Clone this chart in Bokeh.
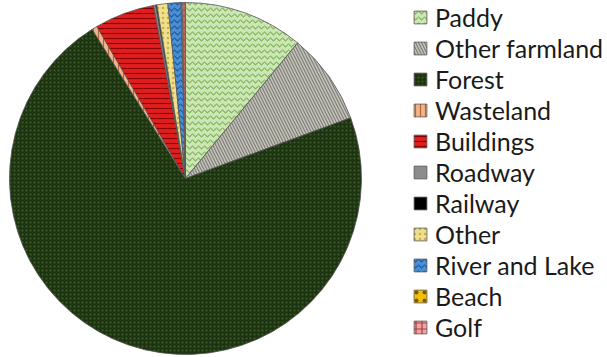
import math
from bokeh.plotting import figure
from bokeh.models import ColumnDataSource, Legend, LegendItem
from bokeh.embed import file_html
from bokeh.resources import INLINE

categories = ["Paddy", "Other farmland", "Forest", "Wasteland", "Buildings", "Roadway",
              "Railway", "Other", "River and Lake", "Beach", "Golf"]
shares = [11.0, 8.4, 71.7, 0.5, 5.5, 0.2, 0.1, 1.0, 1.2, 0.1, 0.3]

fills = ["#cde6b6", "#c4c4bc", "#1e3312", "#f2b48a", "#e01e1e", "#8c8c8c",
         "#000000", "#f0e08c", "#4a8fd6", "#f5c000", "#f2a4a4"]
hatches = ["horizontal_wave", "left_diagonal_line", "dot", "vertical_line", "horizontal_line", "blank",
           "blank", "dot", "horizontal_wave", "dot", "cross"]
hatch_colors = ["#82b85c", "#7e7e76", "#3c5e2a", "#b4663a", "#8a0000", "#8c8c8c",
                "#000000", "#c4ae4c", "#1e5a9a", "#7a5a00", "#a04040"]
hatch_scales = [6, 6, 4, 5, 5, 8, 8, 5, 6, 8, 6]

total = sum(shares)
starts, ends = [], []
acc = 0.0
for s in shares:
    a0 = math.pi / 2 - 2 * math.pi * acc / total
    acc += s
    a1 = math.pi / 2 - 2 * math.pi * acc / total
    starts.append(a0)
    ends.append(a1)

W, H = 607, 357
p = figure(width=W, height=H, output_backend="svg", toolbar_location=None,
           x_range=(0, W), y_range=(0, H), min_border=0)
p.axis.visible = False
p.grid.visible = False
p.outline_line_color = None
p.background_fill_color = "white"

cx, cy, r = 185, 179, 176
items = []
for i, c in enumerate(categories):
    src = ColumnDataSource(dict(x=[cx], y=[cy], s=[starts[i]], e=[ends[i]]))
    g = p.wedge(x="x", y="y", radius=r, start_angle="s", end_angle="e", direction="clock",
                source=src, fill_color=fills[i], line_color="#555555", line_width=0.8,
                hatch_pattern=hatches[i], hatch_color=hatch_colors[i], hatch_scale=hatch_scales[i],
                hatch_weight=1.2)
    items.append(LegendItem(label=c, renderers=[g]))

legend = Legend(items=items, location=(412, 15), padding=0, margin=0,
                glyph_width=16, glyph_height=16, label_height=20, spacing=1,
                label_standoff=7, label_text_font="Lato", label_text_font_size="25px",
                label_text_color="#1a1a1a", border_line_color=None, background_fill_alpha=0)
p.add_layout(legend)

open("out.html", "w").write(file_html(p, INLINE))
